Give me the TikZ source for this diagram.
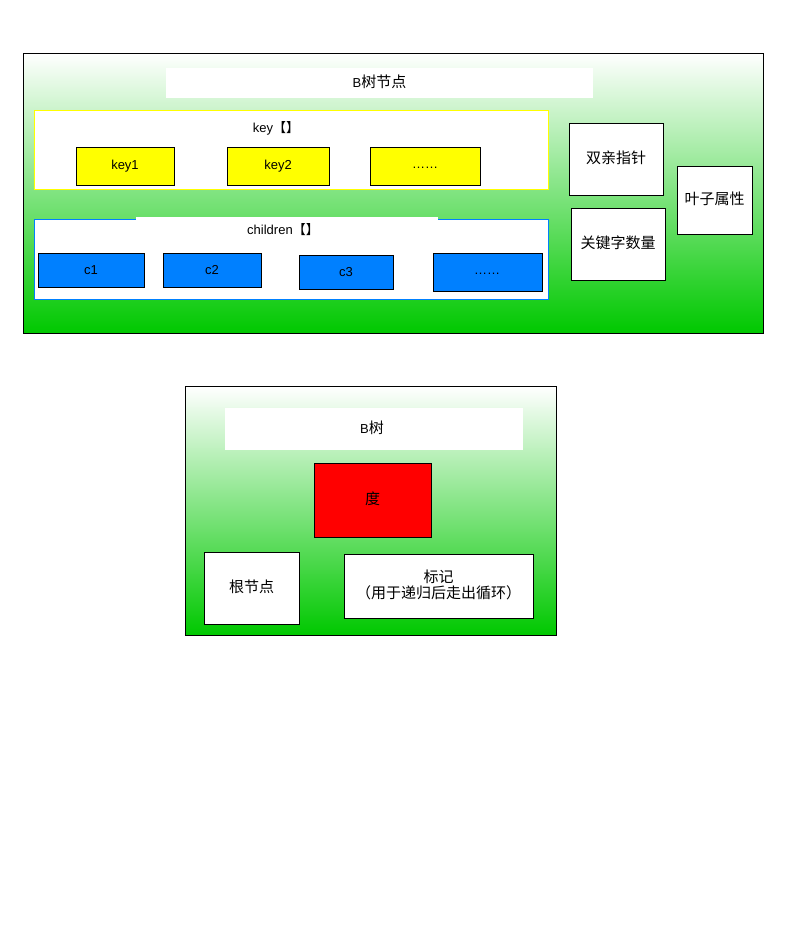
\documentclass[tikz,border=0pt]{standalone}
\usepackage{fontspec}
\setmainfont{Liberation Sans}
\newfontfamily\cjk{Noto Sans CJK SC}
\newcommand{\zh}[1]{{\fontsize{15}{16}\selectfont\cjk #1}}
\definecolor{gtop}{RGB}{255,255,255}
\definecolor{gbot}{RGB}{0,200,0}
\definecolor{cblue}{RGB}{0,128,255}
\definecolor{kyellow}{RGB}{255,255,0}
\tikzset{
  panel/.style={draw=black, line width=0.8pt, top color=gtop, bottom color=gbot, shading angle=0},
  whitebox/.style={fill=white, draw=none},
  keybox/.style={fill=kyellow, draw=black, line width=0.8pt},
  childbox/.style={fill=cblue, draw=black, line width=0.8pt},
  plainbox/.style={fill=white, draw=black, line width=0.8pt},
  txt/.style={font=\fontsize{13}{15}\selectfont, inner sep=0pt},
  zhtxt/.style={font=\fontsize{15}{16}\selectfont\cjk, inner sep=0pt},
}
\begin{document}
\begin{tikzpicture}[x=1pt,y=-1pt]
\useasboundingbox (0,0) rectangle (794,945);
% top panel
\filldraw[panel] (23,53) rectangle (763,333);
\fill[whitebox] (166,68) rectangle (593,98);
\node[txt] (t1) at (379.5,82) {B\zh{树节点}};
% key group
\filldraw[fill=white, draw=kyellow, line width=0.8pt] (34,110) rectangle (548,189);
\node[txt] (keylab) at (276,128) {key{\cjk 【】}};
\filldraw[keybox] (76,147) rectangle (174,185);
\node[txt] (k1) at (125,166) {key1};
\filldraw[keybox] (227,147) rectangle (329,185);
\node[txt] (k2) at (278,166) {key2};
\filldraw[keybox] (370,147) rectangle (480,185);
\node[txt] (k3) at (425,168) {……};
% children group
\filldraw[fill=white, draw=cblue, line width=0.8pt] (34,219) rectangle (548,299);
\fill[white] (136,217) rectangle (438,221.5);
\node[txt] (chlab) at (283,230) {children{\cjk 【】}};
\filldraw[childbox] (38,253) rectangle (144,287);
\node[txt] (c1) at (91,270) {c1};
\filldraw[childbox] (163,253) rectangle (261,287);
\node[txt] (c2) at (212,270) {c2};
\filldraw[childbox] (299,255) rectangle (393,289);
\node[txt] (c3) at (346,272) {c3};
\filldraw[childbox] (433,253) rectangle (542,291);
\node[txt] (c4) at (487,274) {……};
% right boxes
\filldraw[plainbox] (569,123) rectangle (663,195);
\node[zhtxt] (p1) at (616,158) {双亲指针};
\filldraw[plainbox] (571,208) rectangle (665,280);
\node[zhtxt] (p2) at (618,243) {关键字数量};
\filldraw[plainbox] (677,166) rectangle (752,234);
\node[zhtxt] (p3) at (714.5,199) {叶子属性};
% bottom panel
\filldraw[panel] (185,386) rectangle (556,635);
\fill[whitebox] (225,408) rectangle (523,450);
\node[txt] (t2) at (372,428) {B\zh{树}};
\filldraw[fill=red, draw=black, line width=0.8pt] (314,463) rectangle (431,537);
\node[zhtxt] (deg) at (372.5,499) {度};
\filldraw[plainbox] (204,552) rectangle (299,624);
\node[zhtxt] (root) at (251.5,587) {根节点};
\filldraw[plainbox] (344,554) rectangle (533,618);
\node[zhtxt, align=center] (mark) at (438.5,585) {标记\\（用于递归后走出循环）};
\end{tikzpicture}
\end{document}
